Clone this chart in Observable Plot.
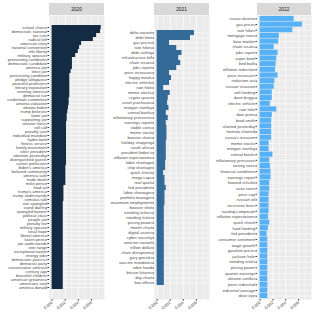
<!DOCTYPE html>
<html><head><meta charset="utf-8">
<script src="https://cdn.jsdelivr.net/npm/d3@7"></script>
<script src="https://cdn.jsdelivr.net/npm/@observablehq/plot@0.6"></script>
<style>
body{margin:0;background:#fff;}
#chart{display:flex;width:315px;height:315px;}
#chart svg{display:block;}
</style></head><body><div id="chart"></div>
<script>
const years = ["2020", "2021", "2022"];
const yearColors = ["#132B43", "#336A98", "#56B1F7"];
const xTicks = [0, 0.002, 0.004, 0.006];
const xMinor = [0.001, 0.003, 0.005, 0.007];

const terms2020 = ["school choice","democratic national","tax cuts","radical left","american story","national convention","title liberty","military spouses","preexisting conditions","democratic candidate","america joe","elect joe","preexisting condition","pledge allegiance","peaceful protesters","literary exposition","evening america","democrat run","credentials committee","antonia valuation","obama biden","trump believes","fame joe","supporting joe","senator harris","roll call","proudly cast","individual mandate","hydro farm","fitness service","family movement","elect president","abortion yesterday","distinguished guests","career politicians","biden's america","beloved community","america safe","trade deals","mike pence","load air","trump's america","trump understands","stimulus talk","star spangled","stand darling","spangled banner","political class","people joe","penalty tee","military spouse","local hope","liberal america","karen pence","joe understands","iron range","exceptional nation","energy jobs","democratic process","democrat party","conservative america","century ago","beautiful children","american greatness","americans soul","america donald"];
const values2020 = [0.0075,0.0074,0.0068,0.0063,0.0045,0.0042,0.0040,0.0036,0.0031,0.0031,0.0031,0.0029,0.0027,0.0027,0.0027,0.0027,0.0027,0.0027,0.0026,0.0026,0.0025,0.0024,0.0023,0.0023,0.0022,0.0022,0.0022,0.0022,0.0022,0.0022,0.0022,0.0022,0.0022,0.0022,0.0022,0.0021,0.0021,0.0021,0.0021,0.0021,0.0018,0.0018,0.0018,0.0018,0.0017,0.0017,0.0017,0.0017,0.0017,0.0017,0.0017,0.0017,0.0017,0.0017,0.0017,0.0017,0.0017,0.0017,0.0017,0.0017,0.0017,0.0017,0.0017,0.0017,0.0017,0.0017];

const terms2021 = ["delta variant","debt limit","gas prices","rate hikes","debt ceiling","infrastructure bill","chain issues","jobs report","price increases","happy meals","electric vehicle","rate hike","meme stocks","crypto space","asset purchases","morgan stanley","central banks","inflationary pressures","earnings report","stable coins","meme stock","booster shots","holiday shopping","south africa","president biden's","inflation expectations","labor shortage","chip shortage","quick check","mega caps","real quick","fed president","labor shortages","portfolio manager","maximum employment","booster shot","trending tickers","trending ticker","pricing power","month chart","digital assets","cyber security","omicron variant","trillion dollar","chain disruptions","gary gensler","vaccine mandates","robin hood","bitcoin futures","day chart","box office"];
const values2021 = [0.0057,0.0051,0.0019,0.0030,0.0038,0.0033,0.0036,0.0030,0.0019,0.0022,0.0019,0.0010,0.0020,0.0017,0.0016,0.0018,0.0014,0.0017,0.0014,0.0015,0.0015,0.0015,0.0014,0.0014,0.0014,0.0014,0.0013,0.0013,0.0010,0.0012,0.0012,0.0014,0.0012,0.0012,0.0012,0.0011,0.0011,0.0011,0.0011,0.0011,0.0011,0.0011,0.0011,0.0011,0.0011,0.0011,0.0011,0.0011,0.0011,0.0011,0.0011];

const terms2022 = ["russia ukraine","gas prices","rate hikes","mortgage rates","bear market","chain issues","jobs report","super bowl","bed bath","inflation reduction","price increases","reduction act","russian invasion","soft landing","dave briggs","electric vehicle","rate hike","dow jones","brad smith","shorted yesterday","formula shorted","russia's invasion","meme stocks","morgan stanley","central banks","inflationary pressures","raising rates","financial conditions","earnings report","howard schultz","raise rates","price cap","russian oil","recession fears","nasdaq composite","inflation expectations","quick check","hard landing","fed president","consumer sentiment","wage growth","gasoline prices","jackson hole","trending ticker","pricing power","quarter earnings","ukraine conflict","jones industrial","industrial average","dose eye"];
const values2022 = [0.0053,0.0066,0.0051,0.0030,0.0029,0.0022,0.0028,0.0026,0.0025,0.0024,0.0028,0.0023,0.0022,0.0019,0.0019,0.0016,0.0026,0.0019,0.0018,0.0018,0.0018,0.0018,0.0014,0.0014,0.0020,0.0015,0.0016,0.0017,0.0017,0.0015,0.0015,0.0014,0.0014,0.0014,0.0014,0.0013,0.0015,0.0013,0.0011,0.0012,0.0012,0.0012,0.0012,0.0012,0.0012,0.0012,0.0012,0.0012,0.0012,0.0012];

const panels = [
  {terms: terms2020, values: values2020, ml: 49, mr: 1},
  {terms: terms2021, values: values2021, ml: 49, mr: 1},
  {terms: terms2022, values: values2022, ml: 47, mr: 4}
];

const W = 105, H = 315, MT = 15, MB = 16;
const chart = document.getElementById("chart");

panels.forEach((p, i) => {
  const data = p.terms.map((t, j) => ({term: t, value: p.values[j]}));
  const svg = Plot.plot({
    width: W, height: H,
    marginTop: MT, marginBottom: MB, marginLeft: p.ml, marginRight: p.mr,
    style: {fontFamily: "'Liberation Sans', Arial, sans-serif", fontSize: "4.1px", color: "#4D4D4D", background: "transparent", overflow: "visible"},
    x: {domain: [-0.0004, 0.0080], label: null},
    y: {domain: p.terms, paddingInner: 0.1, paddingOuter: 0.15, label: null},
    marks: [
      Plot.frame({fill: "#EBEBEB", stroke: null}),
      Plot.gridX(xMinor, {stroke: "#fff", strokeOpacity: 1, strokeWidth: 0.4}),
      Plot.gridX(xTicks, {stroke: "#fff", strokeOpacity: 1, strokeWidth: 0.8}),
      Plot.gridY({stroke: "#fff", strokeOpacity: 1, strokeWidth: 0.6}),
      Plot.barX(data, {x: "value", y: "term", fill: yearColors[i]}),
      Plot.axisX(xTicks, {tickFormat: d3.format(".3f"), tickRotate: -40, tickSize: 1.5, tickPadding: 1, stroke: "#333", fill: "#4D4D4D", label: null}),
      Plot.axisY({tickSize: 1.5, tickPadding: 1, stroke: "#333", fill: "#4D4D4D", label: null})
    ]
  });
  const s = d3.select(svg);
  const pw = W - p.ml - p.mr;
  s.append("rect").attr("x", p.ml).attr("y", 3).attr("width", pw).attr("height", MT - 3).attr("fill", "#D9D9D9");
  s.append("text").attr("x", p.ml + pw / 2).attr("y", 3 + (MT - 3) / 2).attr("dy", "0.35em")
    .attr("text-anchor", "middle").attr("font-size", "4.8px").attr("fill", "#1A1A1A").text(years[i]);
  chart.appendChild(svg);
});
</script>
</body></html>
